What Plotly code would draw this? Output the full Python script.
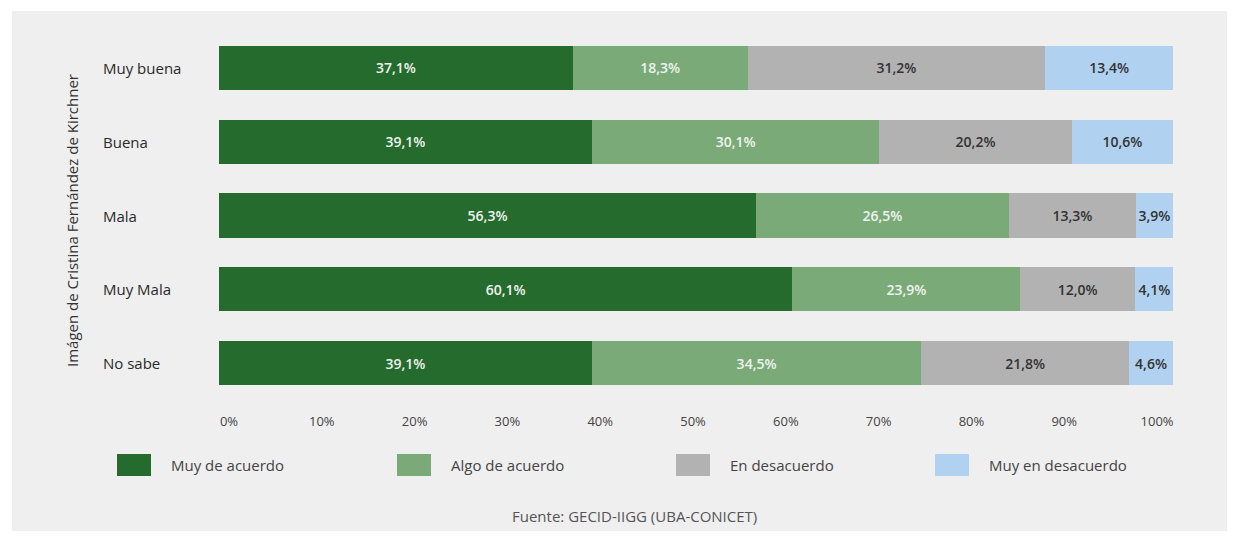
import plotly.graph_objects as go

categories = ["Muy buena", "Buena", "Mala", "Muy Mala", "No sabe"]
series_names = ["Muy de acuerdo", "Algo de acuerdo", "En desacuerdo", "Muy en desacuerdo"]
muy_de_acuerdo = [37.1, 39.1, 56.3, 60.1, 39.1]
algo_de_acuerdo = [18.3, 30.1, 26.5, 23.9, 34.5]
en_desacuerdo = [31.2, 20.2, 13.3, 12.0, 21.8]
muy_en_desacuerdo = [13.4, 10.6, 3.9, 4.1, 4.6]
x_ticks = [0, 10, 20, 30, 40, 50, 60, 70, 80, 90, 100]
x_tick_labels = ["0%", "10%", "20%", "30%", "40%", "50%", "60%", "70%", "80%", "90%", "100%"]
y_title = "Imágen de Cristina Fernández de Kirchner"
source = "Fuente: GECID-IIGG (UBA-CONICET)"

colors = ["#246b2d", "#7aaa78", "#b2b2b2", "#b0d2f0"]
text_colors = ["#eef3ee", "#eef3ee", "#333333", "#333333"]
series_values = [muy_de_acuerdo, algo_de_acuerdo, en_desacuerdo, muy_en_desacuerdo]

FONT = "Open Sans"
OFF = 8  # page body margin
W, H = 1235 - 2 * OFF, 539 - 2 * OFF
ML = 219 - OFF
MT = 31 - OFF
MR = W - (1173 - OFF)
MB = H - (400 - OFF)
PW = W - ML - MR
PH = H - MT - MB

def px_x(px):
    return (px - OFF - ML) / PW

def px_y(py):
    return 1 - (py - OFF - MT) / PH

fig = go.Figure()
for name, vals, col, tcol in zip(series_names, series_values, colors, text_colors):
    fig.add_trace(go.Bar(
        y=categories, x=vals, name=name, orientation="h",
        marker=dict(color=col, line=dict(width=0)),
        text=[f"{v:.1f}%".replace(".", ",") for v in vals],
        textposition="inside", insidetextanchor="middle", textangle=0,
        textfont=dict(family=FONT, size=14, color=tcol, weight=600),
        constraintext="none",
        showlegend=False,
    ))

# invisible trace carrying the tick-label axis
fig.add_trace(go.Scatter(x=x_ticks, y=[categories[0]] * len(x_ticks), xaxis="x2",
                         mode="markers", marker=dict(opacity=0), hoverinfo="skip",
                         showlegend=False))

shapes = [
    dict(type="rect", xref="paper", yref="paper", x0=px_x(0), x1=px_x(1300), y0=px_y(-20), y1=px_y(11),
         fillcolor="white", line=dict(width=0), layer="below"),
    dict(type="rect", xref="paper", yref="paper", x0=px_x(-20), x1=px_x(12), y0=px_y(-20), y1=px_y(560),
         fillcolor="white", line=dict(width=0), layer="below"),
]
annotations = []

for c in categories:
    annotations.append(dict(xref="paper", yref="y", x=px_x(101), y=c, text=c, showarrow=False,
                            xanchor="left", yanchor="middle",
                            font=dict(family=FONT, size=15, color="#2a2a2a", weight=500)))

annotations.append(dict(xref="paper", yref="paper", x=px_x(72), y=px_y(221), text=y_title,
                        textangle=-90, showarrow=False, xanchor="center", yanchor="middle",
                        font=dict(family=FONT, size=15, color="#333333", weight=500)))

legend_x = [117, 397, 676, 935]
for name, col, lx in zip(series_names, colors, legend_x):
    shapes.append(dict(type="rect", xref="paper", yref="paper",
                       x0=px_x(lx), x1=px_x(lx + 34), y0=px_y(454), y1=px_y(476),
                       fillcolor=col, line=dict(width=0)))
    annotations.append(dict(xref="paper", yref="paper", x=px_x(lx + 52), y=px_y(465), text=name,
                            showarrow=False, xanchor="left", yanchor="middle",
                            font=dict(family=FONT, size=15, color="#444444")))

annotations.append(dict(xref="paper", yref="paper", x=px_x(634), y=px_y(516), text=source,
                        showarrow=False, xanchor="center", yanchor="middle",
                        font=dict(family=FONT, size=15, color="#555555")))

fig.update_layout(
    width=W, height=H,
    margin=dict(l=ML, r=MR, t=MT, b=MB, pad=0),
    barmode="stack", bargap=0.4,
    paper_bgcolor="#efefef", plot_bgcolor="#efefef",
    shapes=shapes, annotations=annotations,
    xaxis=dict(range=[0, 100], showticklabels=False, ticks="",
               showgrid=False, zeroline=False, showline=False),
    xaxis2=dict(overlaying="x", side="bottom", range=[-1.08, 101.72],
                tickvals=x_ticks, ticktext=x_tick_labels,
                showgrid=False, zeroline=False, showline=False,
                ticks="outside", ticklen=9, tickcolor="rgba(0,0,0,0)",
                tickfont=dict(family=FONT, size=13, color="#444444")),
    yaxis=dict(categoryorder="array", categoryarray=categories, autorange="reversed",
               showticklabels=False, showgrid=False, zeroline=False, showline=False),
    font=dict(family=FONT),
    showlegend=False,
)

fig.write_html("out.html")
